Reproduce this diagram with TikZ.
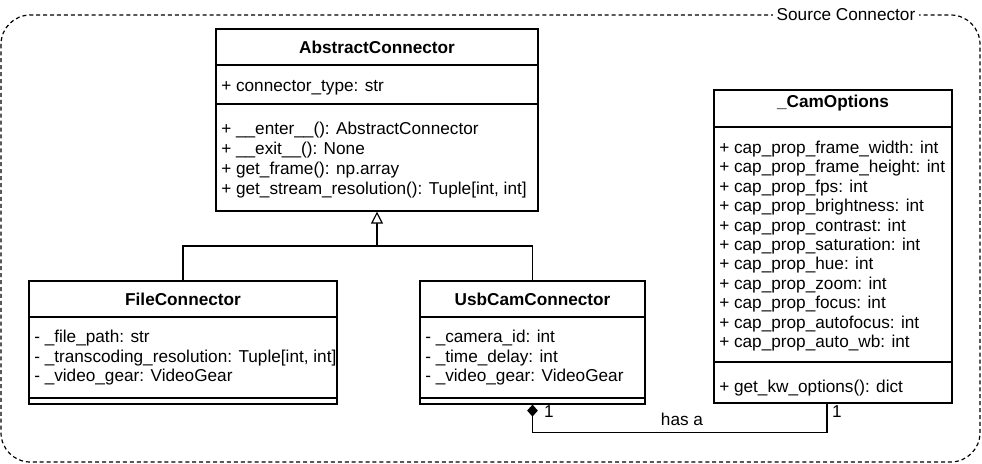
\documentclass[tikz,border=0pt]{standalone}
\usepackage{fontspec}
\setmainfont{Liberation Sans}
\usetikzlibrary{arrows.meta,positioning,fit}

\begin{document}
\begin{tikzpicture}[x=0.75pt,y=-0.75pt,font=\fontsize{12.9pt}{15pt}\selectfont,
  cls/.style={draw,line width=0.9pt,inner sep=0pt,fit={#1}},
  sep/.style={line width=0.9pt},
  ctitle/.style={font=\fontsize{12.9pt}{15pt}\selectfont\bfseries,anchor=base,inner sep=0pt},
  member/.style={anchor=base west,inner sep=0pt},
  link/.style={line width=0.9pt},
  mult/.style={anchor=base,inner sep=0pt}]
\useasboundingbox (0,0) rectangle (982,464);
% package frame
\draw[line width=0.9pt,dash pattern=on 3pt off 2.2pt,rounded corners=22pt] (1,15) rectangle (980,462);
\node[fill=white,inner xsep=3pt,inner ysep=1pt,anchor=base] (pkg) at (846,20.5) {Source Connector};

% classes
\node[cls={(216,29) (538,211)}] (abs) {};
\node[cls={(29,281) (337,404)}] (file) {};
\node[cls={(420,281) (645,404)}] (usb) {};
\node[cls={(714,90) (952,403)}] (cam) {};

% AbstractConnector
\node[ctitle] at (abs.north |- 0,53.3) {AbstractConnector};
\draw[sep] (abs.west |- 0,65) -- (abs.east |- 0,65);
\node[member] at (221,91) {+ connector\_type: str};
\draw[sep] (abs.west |- 0,104) -- (abs.east |- 0,104);
\foreach \t [count=\i] in {{+ \_\_enter\_\_(): AbstractConnector},{+ \_\_exit\_\_(): None},
    {+ get\_frame(): np.array},{+ get\_stream\_resolution(): Tuple[int, int]}}
  \node[member] at (221,134+20.2*\i-20.2) {\t};

% FileConnector
\node[ctitle] at (file.north |- 0,305) {FileConnector};
\draw[sep] (file.west |- 0,317) -- (file.east |- 0,317);
\foreach \t [count=\i] in {{- \_file\_path: str},{- \_transcoding\_resolution: Tuple[int, int]},
    {- \_video\_gear: VideoGear}}
  \node[member] at (34,342.5+19.5*\i-19.5) {\t};
\draw[sep] (file.west |- 0,398) -- (file.east |- 0,398);

% UsbCamConnector
\node[ctitle] at (usb.north |- 0,305) {UsbCamConnector};
\draw[sep] (usb.west |- 0,317) -- (usb.east |- 0,317);
\foreach \t [count=\i] in {{- \_camera\_id: int},{- \_time\_delay: int},{- \_video\_gear: VideoGear}}
  \node[member] at (425,342.5+19.5*\i-19.5) {\t};
\draw[sep] (usb.west |- 0,398) -- (usb.east |- 0,398);

% _CamOptions
\node[ctitle] at (cam.north |- 0,107.5) {\_CamOptions};
\draw[sep] (cam.west |- 0,127) -- (cam.east |- 0,127);
\foreach \t [count=\i] in {frame\_width,frame\_height,fps,brightness,contrast,saturation,
    hue,zoom,focus,autofocus,auto\_wb}
  \node[member] at (719,153.5+19.4*\i-19.4) {+ cap\_prop\_\t: int};
\draw[sep] (cam.west |- 0,362) -- (cam.east |- 0,362);
\node[member] at (719,392.5) {+ get\_kw\_options(): dict};

% inheritance
\draw[link] (file.north) |- (abs.south |- 0,246) coordinate (join);
\draw[link] (usb.north) |- (join);
\draw[link,-{Triangle[open,fill=white,length=9pt,width=9pt]}] (join) -- (abs.south);

% composition
\draw[link,{Diamond[length=9pt,width=8pt]}-] (usb.south) -- ++(0,28) -| (cam.south -| 827,0);
\node[mult] at (549,417) {1};
\node[mult] at (837,417) {1};
\node[mult] at (682,425.7) {has a};
\end{tikzpicture}
\end{document}
